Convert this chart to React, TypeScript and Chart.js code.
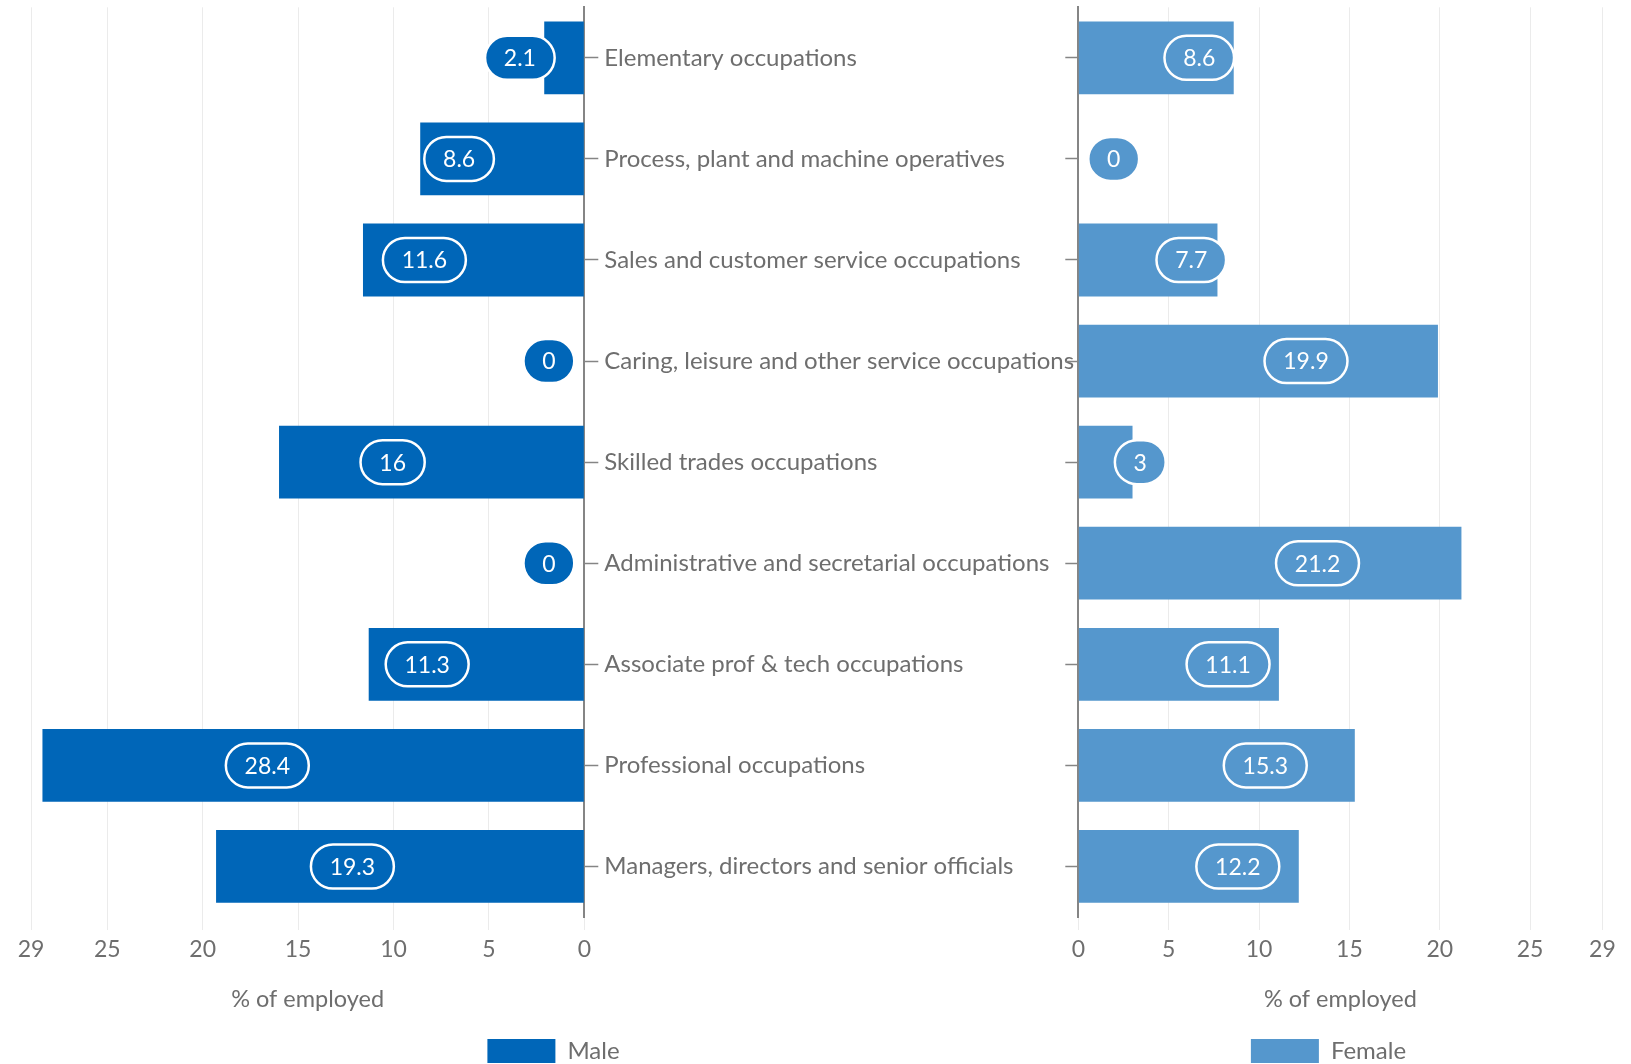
import React, { useEffect, useRef } from 'react';
import { Chart, registerables } from 'chart.js';

Chart.register(...registerables);
Chart.defaults.font.family = 'Lato, "Open Sans", sans-serif';

// ---------- data ----------
const CATEGORIES = [
  'Elementary occupations',
  'Process, plant and machine operatives',
  'Sales and customer service occupations',
  'Caring, leisure and other service occupations',
  'Skilled trades occupations',
  'Administrative and secretarial occupations',
  'Associate prof & tech occupations',
  'Professional occupations',
  'Managers, directors and senior officials',
];
const MALE = [2.1, 8.6, 11.6, 0, 16, 0, 11.3, 28.4, 19.3];
const FEMALE = [8.6, 0, 7.7, 19.9, 3, 21.2, 11.1, 15.3, 12.2];
const X_TICKS = [0, 5, 10, 15, 20, 25, 29];
const X_MAX = 29;
const AXIS_TITLE = '% of employed';
const MALE_LABEL = 'Male';
const FEMALE_LABEL = 'Female';

// ---------- style ----------
const MALE_COLOR = '#0066b8';
const FEMALE_COLOR = '#5597cd';
const TEXT_COLOR = '#6e6e6e';
const GRID_COLOR = '#ebebeb';
const AXIS_COLOR = '#858585';
const CANVAS_H = 1073;

const pillPlugin = {
  id: 'pills',
  afterDatasetsDraw(chart: any, _args: any, opts: any) {
    const ctx = chart.ctx;
    const meta = chart.getDatasetMeta(0);
    const xs = chart.scales.x;
    const ds = chart.data.datasets[0];
    const zero = xs.getPixelForValue(0);
    const dir = xs.options.reverse ? -1 : 1;
    ctx.save();
    ctx.font = '23px Lato';
    ctx.textAlign = 'center';
    ctx.textBaseline = 'middle';
    meta.data.forEach((bar: any, i: number) => {
      const v = ds.data[i];
      const text = String(v);
      const tw = ctx.measureText(text).width;
      const len = Math.abs(xs.getPixelForValue(v) - zero);
      const h = 44;
      const w = Math.max(tw + 37.5, h);
      const near = opts.base + len * opts.frac;
      const cx = zero + dir * (near + w / 2);
      const cy = bar.y;
      ctx.beginPath();
      ctx.roundRect(cx - w / 2, cy - h / 2, w, h, h / 2);
      ctx.fillStyle = ds.backgroundColor;
      ctx.fill();
      ctx.lineWidth = 2.5;
      ctx.strokeStyle = '#ffffff';
      ctx.stroke();
      ctx.fillStyle = '#ffffff';
      ctx.fillText(text, cx, cy + 1);
    });
    ctx.restore();
  },
};

function makeConfig(side: 'left' | 'right'): any {
  const isLeft = side === 'left';
  return {
    type: 'bar',
    data: {
      labels: CATEGORIES,
      datasets: [
        {
          label: isLeft ? MALE_LABEL : FEMALE_LABEL,
          data: isLeft ? MALE : FEMALE,
          backgroundColor: isLeft ? MALE_COLOR : FEMALE_COLOR,
          borderWidth: 0,
          categoryPercentage: 1,
          barPercentage: 0.72,
        },
      ],
    },
    plugins: [pillPlugin],
    options: {
      indexAxis: 'y',
      responsive: false,
      animation: false,
      layout: {
        padding: isLeft
          ? { left: 31, right: 0, top: 7.3, bottom: 0 }
          : { left: 14.6, right: 28.6, top: 7.3, bottom: 0 },
      },
      plugins: {
        legend: {
          position: 'bottom',
          labels: {
            boxWidth: 68,
            boxHeight: 24,
            padding: 10,
            color: TEXT_COLOR,
            font: { size: 24 },
          },
        },
        tooltip: { enabled: false },
        pills: { base: 10, frac: 0.49 },
      },
      scales: {
        x: {
          type: 'linear',
          min: 0,
          max: X_MAX,
          reverse: isLeft,
          afterBuildTicks: (s: any) => {
            s.ticks = X_TICKS.map((v) => ({ value: v }));
          },
          ticks: {
            color: TEXT_COLOR,
            font: { size: 23, lineHeight: 1.2 },
            padding: 6,
            autoSkip: false,
            maxRotation: 0,
          },
          grid: {
            color: GRID_COLOR,
            tickColor: GRID_COLOR,
            tickLength: 13,
            lineWidth: 1,
          },
          border: { display: false },
          title: {
            display: true,
            text: AXIS_TITLE,
            color: TEXT_COLOR,
            font: { size: 23.5, lineHeight: 1.2 },
            padding: { top: 15.3, bottom: 15.9 },
          },
        },
        y: {
          position: isLeft ? 'right' : 'left',
          grid: {
            offset: false,
            drawOnChartArea: false,
            drawTicks: true,
            tickLength: isLeft ? 14 : 13,
            tickColor: AXIS_COLOR,
            tickWidth: 1.5,
          },
          border: { display: true, color: AXIS_COLOR, width: 2 },
          ticks: {
            display: isLeft,
            color: TEXT_COLOR,
            font: { size: 24, lineHeight: 1.2 },
            padding: 6,
            autoSkip: false,
          },
          afterFit: (s: any) => {
            s.width = isLeft ? 491.7 : 23.7;
            s.paddingTop = 0;
            s.paddingBottom = 0;
          },
        },
      },
    },
  };
}

function SideChart({ side, left, width }: { side: 'left' | 'right'; left: number; width: number }) {
  const ref = useRef<HTMLCanvasElement | null>(null);
  useEffect(() => {
    if (!ref.current) return;
    const chart = new Chart(ref.current, makeConfig(side));
    return () => chart.destroy();
  }, [side]);
  return (
    <canvas
      ref={ref}
      width={width}
      height={CANVAS_H}
      style={{ position: 'absolute', left, top: 0, width, height: CANVAS_H }}
    />
  );
}

export default function App() {
  return (
    <div
      style={{
        position: 'absolute',
        left: 0,
        top: 0,
        width: 1631,
        height: 1064,
        overflow: 'hidden',
        background: '#ffffff',
      }}
    >
      <SideChart side="left" left={0} width={1076} />
      <SideChart side="right" left={1040} width={591} />
    </div>
  );
}
